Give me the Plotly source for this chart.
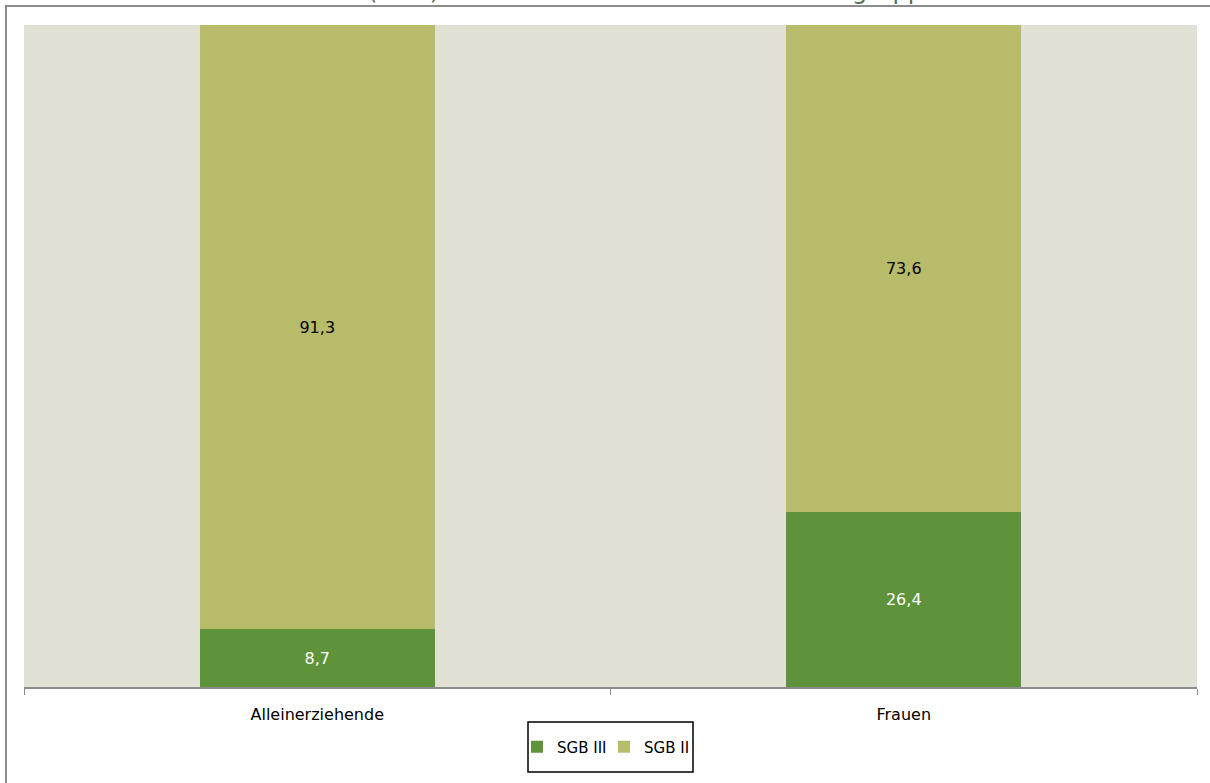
import plotly.graph_objects as go

# data
categories = ["Alleinerziehende", "Frauen"]
sgb3_values = [8.7, 26.4]
sgb2_values = [91.3, 73.6]
series_names = ["SGB III", "SGB II"]

title_text = "Arbeitslose (in %) nach Rechtskreisen und Personengruppen"

W, H = 1210, 783
left, right, top, bottom = 24, 13, 25, 96
plot_w = W - left - right
plot_h = H - top - bottom


def px_to_paper_x(px):
    return (px - left) / plot_w


def px_to_paper_y(py):
    return (H - bottom - py) / plot_h


fig = go.Figure()
fig.add_trace(go.Bar(
    x=categories, y=sgb3_values, name=series_names[0],
    marker=dict(color="#5E933B", line=dict(width=0)),
    text=sgb3_values, texttemplate="%{y:.1f}", textposition="inside",
    insidetextanchor="middle",
    textfont=dict(color="white", size=16, family="DejaVu Sans"),
))
fig.add_trace(go.Bar(
    x=categories, y=sgb2_values, name=series_names[1],
    marker=dict(color="#B8BB6A", line=dict(width=0)),
    text=sgb2_values, texttemplate="%{y:.1f}", textposition="inside",
    insidetextanchor="middle",
    textfont=dict(color="black", size=16, family="DejaVu Sans"),
))

# outer frame (top and left edges visible)
fig.add_shape(type="rect", xref="paper", yref="paper",
              x0=px_to_paper_x(6), x1=px_to_paper_x(W + 20),
              y0=px_to_paper_y(H + 20), y1=px_to_paper_y(6),
              line=dict(color="#8C8C8C", width=2), layer="below")

# legend frame
fig.add_shape(type="rect", xref="paper", yref="paper",
              x0=px_to_paper_x(528), x1=px_to_paper_x(693),
              y0=px_to_paper_y(772), y1=px_to_paper_y(722),
              line=dict(color="black", width=1.5), layer="below")

# title, clipped at the top like in the original
fig.add_annotation(text=title_text, xref="paper", yref="paper",
                   x=px_to_paper_x(590), y=px_to_paper_y(-9),
                   xanchor="center", yanchor="middle", showarrow=False,
                   font=dict(size=24, color="#5A6B57", family="DejaVu Sans"))

fig.update_layout(
    barmode="stack",
    bargap=0.6,
    width=W, height=H,
    margin=dict(l=left, r=right, t=top, b=bottom),
    paper_bgcolor="white",
    plot_bgcolor="#E0E1D4",
    separators=",.",
    font=dict(family="DejaVu Sans", size=16, color="black"),
    showlegend=True,
    legend=dict(orientation="h", x=px_to_paper_x(517), xanchor="left",
                y=px_to_paper_y(747), yanchor="middle",
                bgcolor="rgba(0,0,0,0)", borderwidth=0,
                font=dict(size=15, family="DejaVu Sans"),
                itemwidth=30, entrywidth=42, entrywidthmode="pixels",
                traceorder="normal"),
    xaxis=dict(showline=True, linecolor="#8C8C8C", linewidth=2,
               ticks="outside", tickson="boundaries", ticklen=6,
               tickcolor="#8C8C8C", tickwidth=1, showgrid=False,
               ticklabelstandoff=12, tickfont=dict(size=16)),
    yaxis=dict(range=[0, 100], visible=False, showgrid=False),
)

fig.write_html("out.html", config={"displayModeBar": False},
               post_script="document.body.style.margin='0';")
